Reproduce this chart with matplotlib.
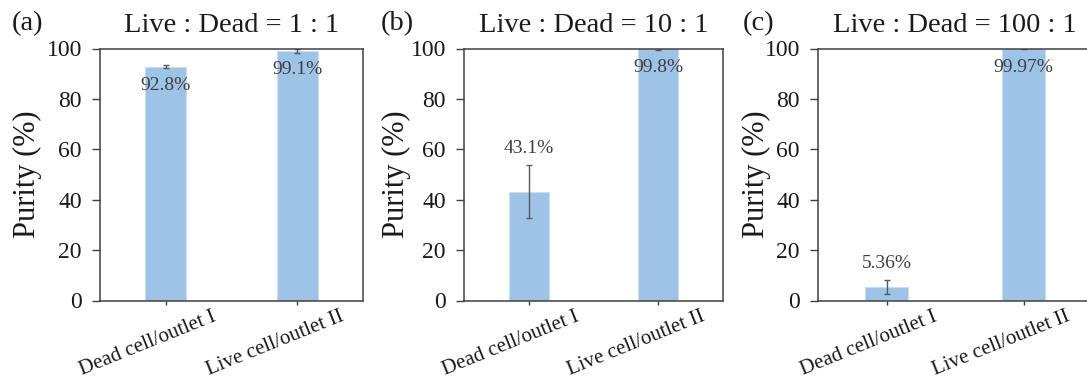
import matplotlib
matplotlib.use("Agg")
import matplotlib.pyplot as plt

# data
categories = ["Dead cell/outlet I", "Live cell/outlet II"]
titles = ["Live : Dead = 1 : 1", "Live : Dead = 10 : 1", "Live : Dead = 100 : 1"]
panel_tags = ["(a)", "(b)", "(c)"]
purity_a = [92.8, 99.1]
purity_b = [43.1, 99.8]
purity_c = [5.36, 99.97]
err_a = [0.5, 0.7]
err_b = [10.5, 0.3]
err_c = [2.7, 0.05]
labels_a = ["92.8%", "99.1%"]
labels_b = ["43.1%", "99.8%"]
labels_c = ["5.36%", "99.97%"]

plt.rcParams['font.family'] = ['Liberation Serif', 'DejaVu Serif']

BAR = "#9DC3E6"
SPINE = "#404040"
TXT = "#1a1a1a"

fig = plt.figure(figsize=(10.87, 3.87), dpi=100)
W, H = 1087, 387

# axes boxes in pixels: left, right
boxes = [(100, 363), (464, 723), (818, 1092)]
bottom_px, top_px = 300.5, 48.5
ylab_x = [-0.22, -0.204, -0.172]
tag_x = [12, 381, 743]

datasets = [(purity_a, err_a, labels_a),
            (purity_b, err_b, labels_b),
            (purity_c, err_c, labels_c)]

for i, (vals, errs, labs) in enumerate(datasets):
    l, r = boxes[i]
    ax = fig.add_axes([l / W, (H - bottom_px) / H, (r - l) / W, (bottom_px - top_px) / H])
    x = list(range(len(categories)))
    ax.bar(x, vals, width=0.31, color=BAR, edgecolor="#c9def2", linewidth=0.8,
           yerr=errs, capsize=2.5,
           error_kw=dict(ecolor="#595959", elinewidth=1.0, capthick=1.0))
    ax.set_xlim(-0.5, 1.5)
    ax.set_ylim(0, 100)
    ax.set_yticks([0, 20, 40, 60, 80, 100])
    ax.set_xticks(x)
    ax.set_xticklabels([])
    # rotated category labels, shifted a bit left of the tick like the original
    for xi, cat in zip(x, categories):
        dx = -13 if xi == 0 else -16
        ax.annotate(cat, (xi, 0), xytext=(dx, -5), textcoords="offset points",
                    xycoords=("data", "axes fraction"),
                    rotation=22, ha="center", va="top", fontsize=15, color=TXT,
                    annotation_clip=False)
    ax.tick_params(axis="y", length=6, width=1, pad=7, labelsize=17, colors=SPINE, labelcolor=TXT)
    ax.tick_params(axis="x", length=3, width=1, pad=2, colors=SPINE, labelcolor=TXT)
    for s in ax.spines.values():
        s.set_color(SPINE)
        s.set_linewidth(1.1)
    ax.set_ylabel("Purity (%)", fontsize=22, color=TXT)
    ax.yaxis.set_label_coords(ylab_x[i], 0.5)
    ax.set_title(titles[i], fontsize=20.5, color=TXT, pad=12)
    fig.text(tag_x[i] / W, (H - 30) / H, panel_tags[i], fontsize=20.5, color=TXT,
             va="baseline", ha="left")

    for xi, v, e, t in zip(x, vals, errs, labs):
        if v > 90:
            ax.text(xi, v - 7.5, t, ha="center", va="center", fontsize=14, color="#404040")
        else:
            ax.annotate(t, (xi, v + e), xytext=(0, 6), textcoords="offset points",
                        ha="center", va="bottom", fontsize=14, color="#404040")

fig.savefig("out.png", dpi=100, facecolor="white")
